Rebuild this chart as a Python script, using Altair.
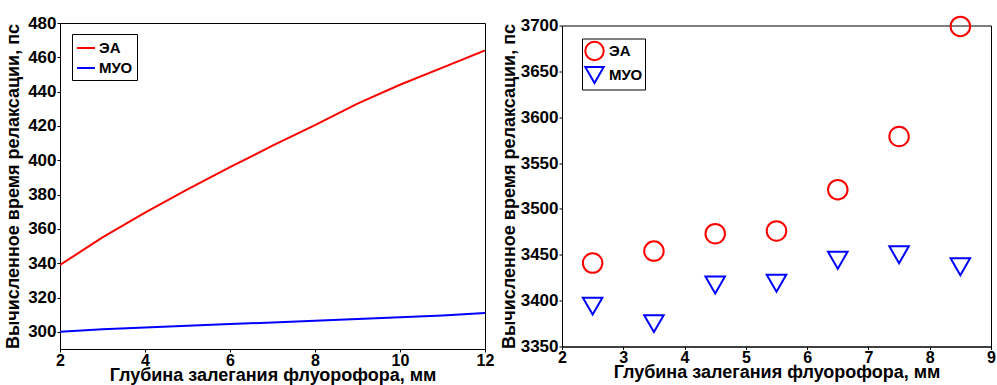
import altair as alt
import pandas as pd

# ---- data ----
series = ["ЭА", "МУО"]
colors = ["#ff0000", "#0000ff"]
shapes = ["circle", "triangle-down"]

depth_line = [2, 3, 4, 5, 6, 7, 8, 9, 10, 11, 12]
ea_line = [339, 355, 369.5, 383, 396, 408.5, 420.5, 433, 444, 454, 464]
myo_line = [300, 301.5, 302.5, 303.5, 304.5, 305.5, 306.5, 307.5, 308.5, 309.5, 311]

depth_pts = [2.5, 3.5, 4.5, 5.5, 6.5, 7.5, 8.5]
ea_pts = [3441, 3454, 3473, 3476, 3521, 3579, 3699]
myo_pts = [3394, 3375, 3417, 3419, 3444, 3450, 3437]

x_title = "Глубина залегания флуорофора, мм"
y_title = "Вычисленное время релаксации, пс"

left_x_ticks = [2, 4, 6, 8, 10, 12]
left_y_ticks = [300, 320, 340, 360, 380, 400, 420, 440, 460, 480]
right_x_ticks = [2, 3, 4, 5, 6, 7, 8, 9]
right_y_ticks = [3350, 3400, 3450, 3500, 3550, 3600, 3650, 3700]

df_line = pd.DataFrame(
    {"depth": depth_line * 2,
     "value": ea_line + myo_line,
     "series": [series[0]] * len(depth_line) + [series[1]] * len(depth_line)}
)
df_pts = pd.DataFrame(
    {"depth": depth_pts * 2,
     "value": ea_pts + myo_pts,
     "series": [series[0]] * len(depth_pts) + [series[1]] * len(depth_pts)}
)

FONT = "Liberation Sans"

def xaxis(values):
    return alt.Axis(values=values, title=x_title, labelFlush=False, labelOverlap=False,
                    labelBound=False, titlePadding=-2, labelPadding=0, labelFontSize=16,
                    format="d")

def yaxis(values, tpad):
    return alt.Axis(values=values, title=y_title, labelOverlap=False, labelFlush=False,
                    titlePadding=tpad, format="d")

left = alt.Chart(df_line).mark_line(strokeWidth=2, clip=True).encode(
    x=alt.X("depth:Q", scale=alt.Scale(domain=[2, 12], nice=False, zero=False),
            axis=xaxis(left_x_ticks)),
    y=alt.Y("value:Q", scale=alt.Scale(domain=[290, 480], nice=False, zero=False),
            axis=yaxis(left_y_ticks, 5)),
    color=alt.Color("series:N", scale=alt.Scale(domain=series, range=colors),
                    legend=alt.Legend(title=None, orient="none", legendX=12, legendY=11,
                                      symbolType="stroke", symbolSize=324,
                                      symbolStrokeWidth=2, padding=4, rowPadding=2,
                                      labelOffset=3)),
    detail="series:N",
).properties(width=425, height=326)

right = alt.Chart(df_pts).mark_point(filled=False, strokeWidth=2, size=380, opacity=1,
                                     clip=False).encode(
    x=alt.X("depth:Q", scale=alt.Scale(domain=[2, 9], nice=False, zero=False),
            axis=xaxis(right_x_ticks)),
    y=alt.Y("value:Q", scale=alt.Scale(domain=[3350, 3700], nice=False, zero=False),
            axis=yaxis(right_y_ticks, 2)),
    color=alt.Color("series:N", scale=alt.Scale(domain=series, range=colors),
                    legend=alt.Legend(title=None, orient="none", legendX=20, legendY=13,
                                      symbolSize=340, symbolStrokeWidth=2,
                                      symbolOpacity=1,
                                      symbolFillColor="transparent",
                                      padding=2, rowPadding=-5, labelOffset=4)),
    shape=alt.Shape("series:N", scale=alt.Scale(domain=series, range=shapes)),
).properties(width=429, height=321)

chart = alt.hconcat(left, right, spacing=77, bounds="flush", center=True).resolve_scale(
    color="independent", shape="independent"
).resolve_legend(color="independent", shape="independent").properties(
    autosize=alt.AutoSizeParams(type="pad"),
    padding={"left": 4, "top": 12, "right": 0, "bottom": 0},
).configure_view(
    stroke="black", strokeWidth=1
).configure_axis(
    labelFont=FONT, labelFontSize=17, labelFontWeight="bold", labelColor="black",
    titleFont=FONT, titleFontSize=18, titleFontWeight="bold", titleColor="black",
    domainColor="black", tickColor="black", tickSize=3, labelPadding=1, grid=False,
).configure_legend(
    labelFont=FONT, labelFontSize=15, labelFontWeight="bold", labelColor="black",
    fillColor="white", strokeColor="black", cornerRadius=0,
)

chart.save("out.html", embed_options={"renderer": "svg", "actions": False})
